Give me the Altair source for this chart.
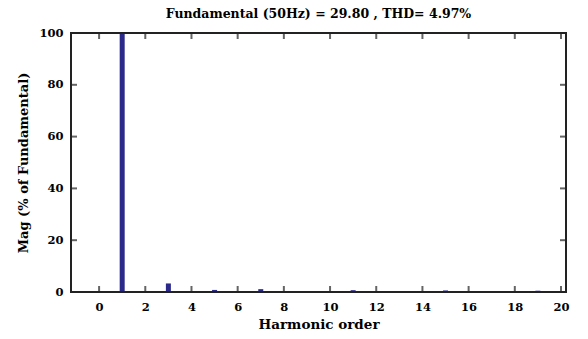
import altair as alt
import pandas as pd

# Harmonic spectrum (% of fundamental)
harmonic_order = list(range(0, 20))
magnitude = [0.0, 100.0, 0.1, 3.3, 0.05, 0.8, 0.05, 1.1, 0.05, 0.1,
             0.05, 0.7, 0.05, 0.15, 0.05, 0.6, 0.05, 0.1, 0.05, 0.5]
x_ticks = [0, 2, 4, 6, 8, 10, 12, 14, 16, 18, 20]
y_ticks = [0, 20, 40, 60, 80, 100]

W, H = 495, 259
FONT = "DejaVu Serif"
BAR = "#2b2a8a"
INK = "#222222"
TL = 6  # tick length in px

bars_df = pd.DataFrame({"h": harmonic_order, "mag": magnitude})
xt_df = pd.DataFrame({"t": x_ticks})
yt_df = pd.DataFrame({"t": y_ticks})

xscale = alt.Scale(domain=[-1, 20], nice=False, zero=False)
yscale = alt.Scale(domain=[0, 100], nice=False)

bars = alt.Chart(bars_df).mark_bar(color=BAR, size=5).encode(
    x=alt.X("h:Q", scale=xscale,
            axis=alt.Axis(values=x_ticks, title="Harmonic order", labelPadding=9,
                          titlePadding=5, titleFontSize=13.5)),
    y=alt.Y("mag:Q", scale=yscale,
            axis=alt.Axis(values=y_ticks, title="Mag (% of Fundamental)",
                          labelPadding=8, titlePadding=8, titleFontSize=13)),
)

# inward ticks on all four edges, drawn as filled tick marks
tick = dict(color=INK, thickness=2, size=TL)
xt_bottom = alt.Chart(xt_df).mark_tick(**tick).encode(
    x=alt.X("t:Q", scale=xscale), y=alt.value(H - TL / 2))
xt_top = alt.Chart(xt_df).mark_tick(**tick).encode(
    x=alt.X("t:Q", scale=xscale), y=alt.value(TL / 2))
yt_left = alt.Chart(yt_df).mark_tick(**tick).encode(
    y=alt.Y("t:Q", scale=yscale), x=alt.value(TL / 2))
yt_right = alt.Chart(yt_df).mark_tick(**tick).encode(
    y=alt.Y("t:Q", scale=yscale), x=alt.value(W - TL / 2))

# plot box edges as thin filled strips
def edge(x0, x1, y0, y1):
    return alt.Chart().mark_rect(color=INK).encode(
        x=alt.value(x0), x2=alt.value(x1), y=alt.value(y0), y2=alt.value(y1))

frame = [edge(-1, 1, -1, H + 1), edge(W - 1, W + 1, -1, H + 1),
         edge(-1, W + 1, -1, 1), edge(-1, W + 1, H - 1, H + 1)]

chart = alt.layer(bars, xt_bottom, xt_top, yt_left, yt_right, *frame).properties(
    width=W, height=H,
    title=alt.TitleParams("Fundamental (50Hz) = 29.80 , THD= 4.97%",
                          font=FONT, fontSize=12.5, fontWeight="bold",
                          color="black", anchor="middle", offset=7),
    padding={"left": 71, "top": 33, "right": 22, "bottom": 47},
    autosize=alt.AutoSizeParams(type="none"),
).configure(background="white").configure_view(
    stroke=None
).configure_axis(
    domain=False, ticks=False, grid=False, labelFlush=False,
    labelFont=FONT, labelFontSize=11.5, labelFontWeight="bold", labelColor="black",
    titleFont=FONT, titleFontWeight="bold", titleColor="black",
)

chart.save("out.html", embed_options={"renderer": "svg", "actions": False})
